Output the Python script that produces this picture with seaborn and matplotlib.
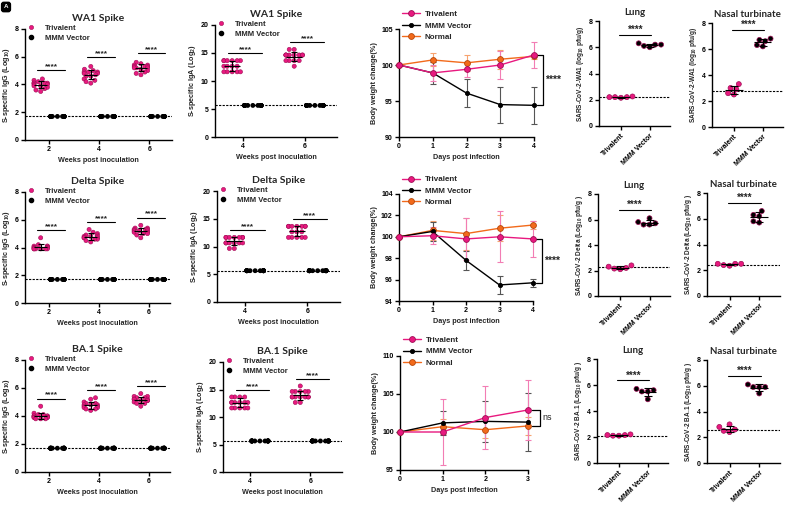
import matplotlib
matplotlib.use("Agg")
import matplotlib.pyplot as plt
import numpy as np
import pandas as pd
import seaborn as sns
from matplotlib.lines import Line2D

# ---------------- data ----------------
groups = ["Trivalent", "MMM Vector"]
igg_weeks = ["2", "4", "6"]
iga_weeks = ["4", "6"]
igg_lod = 1.7
iga_lod = 5.64
n_vector = 15

wa1_igg = [
    [4.4, 4.3, 4.2, 4.1, 4.1, 4.1, 4.1, 4.0, 4.0, 3.9, 3.9, 3.8, 3.7, 3.6, 3.5],
    [5.3, 5.1, 5.0, 4.9, 4.9, 4.9, 4.8, 4.8, 4.7, 4.6, 4.6, 4.4, 4.3, 4.2, 4.1],
    [5.6, 5.5, 5.4, 5.4, 5.3, 5.3, 5.3, 5.2, 5.2, 5.2, 5.1, 5.0, 4.9, 4.8, 4.7],
]
delta_igg = [
    [4.7, 4.2, 4.1, 4.1, 4.1, 4.0, 4.0, 4.0, 4.0, 3.9, 3.9, 3.9, 3.9, 3.9, 3.9],
    [5.3, 5.1, 5.0, 4.9, 4.9, 4.8, 4.8, 4.8, 4.7, 4.7, 4.7, 4.6, 4.6, 4.5, 4.4],
    [5.6, 5.4, 5.4, 5.3, 5.3, 5.3, 5.2, 5.2, 5.2, 5.1, 5.1, 5.0, 5.0, 4.9, 4.7],
]
ba1_igg = [
    [4.7, 4.2, 4.1, 4.1, 4.0, 4.0, 4.0, 4.0, 3.9, 3.9, 3.9, 3.9, 3.8, 3.8, 3.8],
    [5.3, 5.2, 5.0, 4.9, 4.9, 4.8, 4.8, 4.8, 4.7, 4.7, 4.6, 4.6, 4.5, 4.5, 4.4],
    [5.6, 5.4, 5.4, 5.3, 5.3, 5.2, 5.2, 5.2, 5.1, 5.1, 5.1, 5.0, 4.9, 4.9, 4.7],
]

wa1_iga = [
    [13.64] * 6 + [12.64] * 4 + [11.64] * 5,
    [15.64] * 2 + [14.64] * 8 + [13.64] * 4 + [12.64] * 1,
]
delta_iga = [
    [11.64] * 7 + [10.64] * 6 + [9.64] * 2,
    [13.64] * 7 + [12.64] * 3 + [11.64] * 5,
]
ba1_iga = [
    [13.64] * 4 + [12.64] * 6 + [11.64] * 5,
    [15.64] * 1 + [14.64] * 5 + [13.64] * 7 + [12.64] * 2,
]

weight_labels = ["Trivalent", "MMM Vector", "Normal"]
days_wa1 = [0, 1, 2, 3, 4]
wa1_weight_mean = [
    [100, 98.9, 99.4, 100.0, 101.4],
    [100, 98.9, 96.1, 94.5, 94.4],
    [100, 100.7, 100.3, 100.8, 101.2],
]
wa1_weight_sd = [
    [0, 1.1, 1.0, 2.0, 1.8],
    [0, 1.5, 1.9, 2.5, 2.6],
    [0, 0.9, 1.1, 1.3, 0.3],
]
days_delta = [0, 1, 2, 3, 4]
delta_weight_mean = [
    [100, 100.1, 99.8, 100.0, 99.8],
    [100, 100.5, 97.8, 95.5, 95.7],
    [100, 100.6, 100.3, 100.8, 101.1],
]
delta_weight_sd = [
    [0, 0.8, 2.0, 2.4, 1.7],
    [0, 0.9, 0.9, 0.8, 0.4],
    [0, 0.9, 1.5, 1.2, 0.4],
]
days_ba1 = [0, 1, 2, 3]
ba1_weight_mean = [
    [100, 100.0, 101.9, 102.9],
    [100, 101.2, 101.4, 101.3],
    [100, 100.7, 100.3, 100.8],
]
ba1_weight_sd = [
    [0, 4.4, 4.2, 4.0],
    [0, 1.6, 2.7, 3.8],
    [0, 1.0, 1.1, 1.2],
]

wa1_lung = [[2.2, 2.25, 2.2, 2.2, 2.15], [6.3, 6.2, 6.2, 6.1, 6.0]]
wa1_nasal = [[3.3, 3.0, 2.9, 2.6, 2.5], [6.8, 6.7, 6.6, 6.3, 6.2]]
delta_lung = [[2.2, 2.4, 2.3, 2.15, 2.1], [6.1, 5.8, 5.7, 5.6, 5.6]]
delta_nasal = [[2.5, 2.5, 2.5, 2.4, 2.35], [6.6, 6.3, 6.2, 5.8, 5.7]]
ba1_lung = [[2.15, 2.2, 2.1, 2.15, 2.1], [5.7, 5.6, 5.5, 5.5, 4.9]]
ba1_nasal = [[3.0, 2.8, 2.6, 2.5, 2.4], [6.1, 5.9, 5.9, 5.9, 5.4]]
titer_lod = {"wa1_lung": 2.2, "wa1_nasal": 2.8, "delta_lung": 2.3,
             "delta_nasal": 2.4, "ba1_lung": 2.1, "ba1_nasal": 2.6}

# ---------------- style ----------------
PINK = "#E8197F"
PINK_EDGE = "#9E0E55"
ORANGE = "#F26A1B"
ORANGE_EDGE = "#B5460A"
palette = {"Trivalent": PINK, "MMM Vector": "black"}
weight_style = {
    "Trivalent": dict(color=PINK, edge=PINK_EDGE, ecolor="#F27DB4", ms=4.2),
    "MMM Vector": dict(color="black", edge="black", ecolor="#555555", ms=3.0),
    "Normal": dict(color=ORANGE, edge=ORANGE_EDGE, ecolor="#F7A36F", ms=4.2),
}

sns.set_theme(style="ticks")
plt.rcParams["font.family"] = ["Liberation Sans", "DejaVu Sans"]
plt.rcParams.update({
    "font.weight": "bold",
    "axes.labelweight": "bold",
    "axes.linewidth": 1.0,
    "axes.edgecolor": "black",
    "xtick.color": "black",
    "ytick.color": "black",
    "xtick.major.width": 1.0,
    "ytick.major.width": 1.0,
    "xtick.major.size": 3,
    "ytick.major.size": 3,
    "xtick.major.pad": 1.5,
    "ytick.major.pad": 1.5,
    "xtick.labelsize": 5,
    "ytick.labelsize": 5,
    "axes.labelsize": 5.2,
    "mathtext.default": "regular",
})
TITLE_FONT = ["Lato", "DejaVu Sans"]

W, H = 792, 508
fig = plt.figure(figsize=(W / 100, H / 100), dpi=100)


def box(l, t, r, b):
    return fig.add_axes([l / W, 1 - b / H, (r - l) / W, (b - t) / H])


def dot_legend(ax):
    handles = [
        Line2D([], [], ls="none", marker="o", ms=3, mfc=PINK, mec=PINK_EDGE, mew=0.4),
        Line2D([], [], ls="none", marker="o", ms=3, mfc="black", mec="black"),
    ]
    ax.legend(handles, groups, loc="upper left", bbox_to_anchor=(0.0, 1.07),
              frameon=False, fontsize=5.5, handlelength=0.8, handletextpad=1.4,
              labelspacing=0.35, borderaxespad=0)


def antibody_panel(ax, weeks, triv, lod, xlim, ylim, yticks, ylabel, title, sig_pad):
    # slot order: Trivalent, MMM Vector, empty gap, next week ...
    order = []
    for w in weeks:
        order += [f"{w} {groups[0]}", f"{w} {groups[1]}", f"{w} gap"]
    order = order[:-1]
    triv_df = pd.DataFrame([(f"{w} {groups[0]}", groups[0], v)
                            for w, vals in zip(weeks, triv) for v in vals],
                           columns=["slot", "group", "value"])
    vec_df = pd.DataFrame([(f"{w} {groups[1]}", groups[1], lod)
                           for w in weeks for _ in range(n_vector)],
                          columns=["slot", "group", "value"])
    common = dict(x="slot", y="value", hue="group", hue_order=groups, order=order,
                  palette=palette, legend=False, ax=ax, warn_thresh=1)
    ax.axhline(lod, color="black", lw=0.8, ls=(0, (2, 1.2)), zorder=1)
    sns.swarmplot(data=vec_df, size=3.5, linewidth=0, **common)
    sns.swarmplot(data=triv_df, size=3.0, linewidth=0.4, edgecolor=PINK_EDGE, **common)
    for i, vals in enumerate(triv):
        x = 3 * i
        m, s = np.mean(vals), np.std(vals, ddof=1)
        ax.hlines(m, x - 0.38, x + 0.38, color="black", lw=0.8, zorder=4)
        ax.errorbar(x, m, yerr=s, fmt="none", ecolor="black", elinewidth=0.8,
                    capsize=2.2, capthick=0.8, zorder=4)
        y = max(vals) + sig_pad
        ax.plot([x - 0.2, x + 1.45], [y, y], color="black", lw=0.8)
        ax.text(x + 0.62, y, "****", ha="center", va="bottom",
                fontsize=6, fontweight="bold")
    ax.set_xticks([3 * i + 0.5 for i in range(len(weeks))])
    ax.set_xticklabels(weeks)
    ax.set_xlim(*xlim)
    ax.set_ylim(*ylim)
    ax.set_yticks(yticks)
    ax.set_xlabel("Weeks post inoculation", labelpad=2.5)
    ax.set_ylabel(ylabel, labelpad=2)
    ax.set_title(title, family=TITLE_FONT, fontsize=7.5, fontweight="bold", pad=6)
    sns.despine(ax=ax)
    dot_legend(ax)


def weight_panel(ax, days, means, sds, ylim, yticks, sig_text, sig_bold):
    for idx in [2, 1, 0]:
        st = weight_style[weight_labels[idx]]
        ax.errorbar(days, means[idx], yerr=sds[idx], fmt="none", ecolor=st["ecolor"],
                    elinewidth=0.8, capsize=2.2, capthick=0.8, zorder=2, clip_on=False)
        sns.lineplot(x=days, y=means[idx], color=st["color"], marker="o",
                     markersize=st["ms"], markerfacecolor=st["color"],
                     markeredgecolor=st["edge"], markeredgewidth=0.6, linewidth=1.0,
                     ax=ax, clip_on=False, zorder=3)
    x0 = days[-1]
    top = means[0][-1]
    bottom = min(means[1][-1], means[2][-1])
    ax.plot([x0 + 0.1, x0 + 0.27, x0 + 0.27, x0 + 0.1], [top, top, bottom, bottom],
            color="black", lw=0.9, clip_on=False)
    ax.text(x0 + 0.33, (top + bottom) / 2, sig_text, ha="left", va="center",
            fontsize=7.5 if sig_bold else 6.5, fontweight="bold" if sig_bold else "normal",
            clip_on=False)
    ax.set_xlim(days[0], days[-1])
    ax.set_xticks(days)
    ax.set_ylim(*ylim)
    ax.set_yticks(yticks)
    ax.set_xlabel("Days post infection", labelpad=2.5)
    ax.set_ylabel("Body weight change(%)", labelpad=2)
    sns.despine(ax=ax)
    handles = []
    for lab in weight_labels:
        st = weight_style[lab]
        handles.append(Line2D([], [], color=st["color"], lw=1.0, marker="o", ms=st["ms"],
                              mfc=st["color"], mec=st["edge"], mew=0.6))
    ax.legend(handles, weight_labels, loc="upper left", bbox_to_anchor=(0.0, 1.2),
              frameon=False, fontsize=5.8, handlelength=2.2, handletextpad=0.6,
              labelspacing=0.45, borderaxespad=0)


def titer_panel(ax, data, lod, ylabel, title):
    triv, vec = data
    df = pd.DataFrame({"group": [groups[0]] * len(triv) + [groups[1]] * len(vec),
                       "value": triv + vec})
    ax.axhline(lod, color="black", lw=0.8, ls=(0, (2, 1.2)), zorder=1)
    sns.swarmplot(data=df, x="group", y="value", hue="group", order=groups,
                  hue_order=groups, palette=palette, size=3.6, linewidth=0.5,
                  edgecolor=PINK_EDGE, legend=False, ax=ax)
    for i, vals in enumerate([triv, vec]):
        m, s = np.mean(vals), np.std(vals, ddof=1)
        ax.hlines(m, i - 0.3, i + 0.3, color="black", lw=0.8, zorder=4)
        ax.errorbar(i, m, yerr=s, fmt="none", ecolor="black", elinewidth=0.8,
                    capsize=3, capthick=0.8, zorder=4)
    y = max(vec) + 0.65
    ax.plot([-0.05, 1.05], [y, y], color="black", lw=0.8)
    ax.text(0.5, y, "****", ha="center", va="bottom", fontsize=7, fontweight="bold")
    ax.set_xlim(-0.76, 1.7)
    ax.set_ylim(0, 8)
    ax.set_yticks([0, 2, 4, 6, 8])
    ax.set_xticks([0, 1])
    ax.set_xticklabels(groups, rotation=45, ha="right", rotation_mode="anchor")
    ax.set_xlabel("")
    ax.set_ylabel(ylabel, labelpad=2, fontsize=4.7)
    ax.set_title(title, family=TITLE_FONT, fontsize=7, fontweight="bold", pad=4)
    sns.despine(ax=ax)


igg_label = "S-specific IgG (Log$_{10}$)"
iga_label = "S-specific IgA (Log$_{2}$)"

# row 1 - WA1
antibody_panel(box(25, 29, 172, 140), igg_weeks, wa1_igg, igg_lod, (-0.94, 7.86), (0, 8),
               [0, 2, 4, 6, 8], igg_label, "WA1 Spike", 0.65)
antibody_panel(box(215, 25, 337, 137), iga_weeks, wa1_iga, iga_lod, (-0.83, 5.07), (0, 20),
               [0, 5, 10, 15, 20], iga_label, "WA1 Spike", 1.3)
weight_panel(box(399, 29, 534, 137), days_wa1, wa1_weight_mean, wa1_weight_sd, (90, 105),
             [90, 95, 100, 105], "****", True)
titer_panel(box(599, 21, 670, 126), wa1_lung, titer_lod["wa1_lung"],
            "SARS-CoV-2-WA1 (log$_{10}$ pfu/g)", "Lung")
titer_panel(box(712, 23, 783, 127), wa1_nasal, titer_lod["wa1_nasal"],
            "SARS-CoV-2-WA1 (log$_{10}$ pfu/g)", "Nasal turbinate")

# row 2 - Delta
antibody_panel(box(25, 192, 170, 303), igg_weeks, delta_igg, igg_lod, (-0.94, 7.75), (0, 8),
               [0, 2, 4, 6, 8], igg_label, "Delta Spike", 0.55)
antibody_panel(box(217, 191, 340, 302), iga_weeks, delta_iga, iga_lod, (-0.83, 5.07), (0, 20),
               [0, 5, 10, 15, 20], iga_label, "Delta Spike", 1.3)
weight_panel(box(399, 194, 533, 301), days_delta, delta_weight_mean, delta_weight_sd, (94, 104),
             [94, 96, 98, 100, 102, 104], "****", True)
titer_panel(box(598, 194, 670, 296), delta_lung, titer_lod["delta_lung"],
            "SARS-CoV-2 Delta (Log$_{10}$ pfu/g )", "Lung")
titer_panel(box(707, 193, 780, 296), delta_nasal, titer_lod["delta_nasal"],
            "SARS-CoV-2 Delta (Log$_{10}$ pfu/g )", "Nasal turbinate")

# row 3 - BA.1
antibody_panel(box(25, 360, 170, 472), igg_weeks, ba1_igg, igg_lod, (-0.94, 7.75), (0, 8),
               [0, 2, 4, 6, 8], igg_label, "BA.1 Spike", 0.55)
antibody_panel(box(223, 362, 342, 472), iga_weeks, ba1_iga, iga_lod, (-0.83, 5.07), (0, 20),
               [0, 5, 10, 15, 20], iga_label, "BA.1 Spike", 1.3)
weight_panel(box(400, 356, 528, 470), days_ba1, ba1_weight_mean, ba1_weight_sd, (95, 110),
             [95, 100, 105, 110], "ns", False)
titer_panel(box(597, 359, 668, 463), ba1_lung, titer_lod["ba1_lung"],
            "SARS-CoV-2 BA.1 (Log$_{10}$ pfu/g )", "Lung")
titer_panel(box(707, 360, 780, 463), ba1_nasal, titer_lod["ba1_nasal"],
            "SARS-CoV-2 BA.1 (Log$_{10}$ pfu/g )", "Nasal turbinate")

fig.text(6 / W, 1 - 7 / H, "A", color="white", fontsize=4.5, ha="center", va="center",
         bbox=dict(boxstyle="round,pad=0.35", fc="black", ec="black"))

fig.savefig("out.png", dpi=100)
plt.close(fig)
